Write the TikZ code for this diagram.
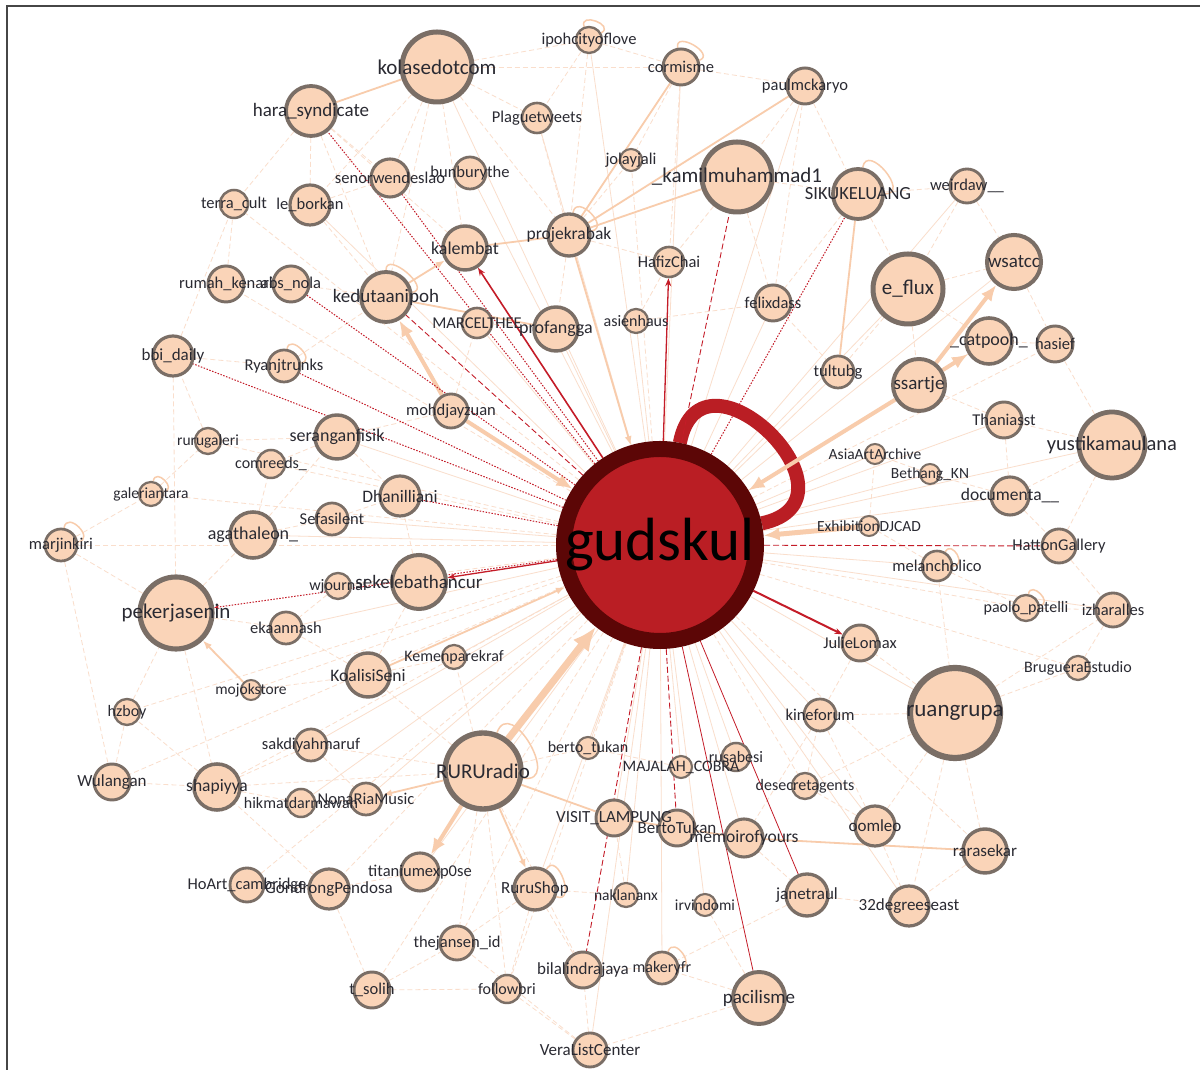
\documentclass[tikz,border=0pt]{standalone}
\usepackage{fontspec}
\setmainfont{Carlito}
\usetikzlibrary{arrows.meta}
\pgfdeclarelayer{edges}
\pgfdeclarelayer{front}
\pgfsetlayers{edges,main,front}
\definecolor{usrfill}{RGB}{250,212,184}
\definecolor{usrline}{RGB}{122,110,102}
\definecolor{lbltxt}{RGB}{42,42,50}
\definecolor{hubfill}{RGB}{186,30,36}
\definecolor{hubline}{RGB}{92,6,6}
\definecolor{peach}{RGB}{248,204,172}
\definecolor{peachlt}{RGB}{250,222,204}
\definecolor{redln}{RGB}{196,28,40}
\definecolor{framecol}{RGB}{70,70,70}
\tikzset{>=stealth,
  usr/.style={circle, draw=usrline, fill=usrfill, inner sep=0pt},
  lbl/.style={text=lbltxt, inner sep=0pt},
  hub/.style={circle, draw=hubline, fill=hubfill, line width=16pt, minimum size=192pt, inner sep=0pt},
  hubloop/.style={draw=hubfill, line width=14pt},
  faint/.style={draw=peachlt, line width=0.8pt},
  fdash/.style={faint, dash pattern=on 5pt off 3pt},
  tie/.style={draw=peach, line width=1.8pt},
  tiearr/.style={tie, -{Latex[length=9pt,width=7pt]}},
  fat/.style={draw=peach, line width=#1, -{Latex[length=16pt,width=13pt]}},
  fat/.default=4pt,
  ploop/.style={draw=peach, line width=1.5pt},
  redarr/.style={draw=redln, line width=1.3pt, -{Stealth[length=8pt,width=6pt]}},
  reddash/.style={draw=redln, line width=0.9pt, dash pattern=on 6pt off 3pt},
  reddot/.style={draw=redln, line width=1pt, dash pattern=on 1.5pt off 1.5pt},
  redthin/.style={draw=redln, line width=0.8pt},
  frame/.style={draw=framecol, line width=1.2pt}
}
\begin{document}
\begin{tikzpicture}[x=1pt,y=1pt]
\useasboundingbox (0,0) rectangle (1200,1070);
\begin{pgfonlayer}{edges}
\fill[white] (0,0) rectangle (1200,1070);
\end{pgfonlayer}
\draw[frame] (7,0) -- (7,1064) -- (1200,1064);

\foreach \nm/\px/\py/\rr/\fs/\lab in {
  kolase/437/67/35/21/kolasedotcom, ipoh/589/40/13/16.5/ipohcityoflove,
  cormis/681/67/18/16.5/cormisme, paul/805/86/18/16.5/paulmckaryo,
  hara/311/111/25/19/hara\_syndicate, plague/537/118/15/16.5/Plaguetweets,
  jolay/631/160/11/16.5/jolayjali, kamil/737/177/35/21/\_kamilmuhammad1,
  siku/858/194/25/18.5/SIKUKELUANG, weird/967/186/17/16.5/weirdaw\_\_,
  senor/390/178/19/16.5/senorwendeslao, bunbury/470/173/16/16.5/bunburythe,
  terra/234/204/14/16.5/terra\_cult, borkan/310/205/20/16.5/le\_borkan,
  kalembat/465/248/22/18/kalembat, projek/569/235/21/17.5/projekrabak,
  hafiz/669/262/15/16.5/HafizChai, wsatcc/1014/262/27/19/wsatcc,
  eflux/908/289/35/21/e\_flux, rumah/226/284/18/16.5/rumah\_kenari,
  nola/291/284/18/16.5/abs\_nola, kedutaan/386/297/25/19/kedutaanipoh,
  marcel/477/323/15/16.5/MARCELTHEE, profangga/556/329/22/18/profangga,
  asien/636/321/12/16/asienhaus, felix/773/303/18/16.5/felixdass,
  bbi/173/356/20/17/bbi\_daily, ryan/284/366/16/16.5/Ryanjtrunks,
  tultub/838/372/16/16.5/tultubg, ssartje/919/385/26/19/ssartje,
  catpooh/989/341/23/18/\_catpooh\_, hasief/1055/344/18/16.5/hasief,
  mohd/451/411/17/16.5/mohdjayzuan, thania/1004/420/18/16.5/Thaniasst,
  yustika/1112/445/33/20.5/yustikamaulana, rurugal/208/441/13/15.5/rurugaleri,
  serangan/337/437/22/18/seranganfisik, comreeds/271/464/14/16/comreeds\_,
  asiaart/875/454/10/15.5/AsiaArtArchive, bethang/930/474/10/15.5/Bethang\_KN,
  documenta/1010/496/19/17.5/documenta\_\_, galeri/151/494/12/15.5/galeriantara,
  dhani/400/496/20/17.5/Dhanilliani, sefa/332/519/16/16.5/Sefasilent,
  agatha/253/535/23/18/agathaleon\_, djcad/869/526/10/15.5/ExhibitionDJCAD,
  marjin/61/545/16/16.5/marjinkiri, hatton/1059/546/17/16.5/HattonGallery,
  melan/937/566/15/16.5/melancholico, wjournal/338/586/13/16/wjournal,
  sekeleba/419/582/27/19/sekelebathancur, pekerja/176/613/36/21/pekerjasenin,
  ekaan/286/628/16/16.5/ekaannash, paolo/1026/608/13/16/paolo\_patelli,
  izhar/1113/610/17/16.5/izharalles, julie/860/643/18/16.5/JulieLomax,
  kemen/454/657/12/16/Kemenparekraf, koalisi/368/675/22/17.5/KoalisiSeni,
  bruguera/1078/668/12/16/BrugueraEstudio, ruang/955/713/45/23/ruangrupa,
  mojok/251/690/10/15.5/mojokstore, hzboy/127/712/13/16/hzboy,
  kine/820/715/16/16.5/kineforum, sakdiyah/311/745/16/16.5/sakdiyahmaruf,
  berto/588/748/11/16/berto\_tukan, rusabesi/736/757/14/16/rusabesi,
  cobra/681/767/11/16/MAJALAH\_COBRA, radio/483/771/38/21/RURUradio,
  wulangan/112/782/18/17/Wulangan, shapiyya/217/787/23/17.5/shapiyya,
  hikmat/301/803/14/16/hikmatdarmawan, nonaria/366/799/16/16.5/NonaRiaMusic,
  desecret/805/786/13/16/desecretagents, lampung/614/818/18/17/VISIT\_LAMPUNG,
  bertotukan/677/828/18/17/BertoTukan, memoir/744/838/19/17.5/memoirofyours,
  oomleo/875/826/20/17/oomleo, rarasekar/985/851/22/17/rarasekar,
  titanium/420/872/19/16.5/titaniumexp0se, hoart/247/885/17/16.5/HoArt\_cambridge,
  gondrong/329/889/20/17/GondrongPendosa, shop/535/889/21/17/RuruShop,
  naklan/626/895/12/15.5/naklananx, irvin/705/905/11/15.5/irvindomi,
  janet/807/895/21/17/janetraul, degrees/909/906/20/17/32degreeseast,
  jansen/457/943/17/16.5/thejansen\_id, bilal/583/970/18/17/bilalindrajaya,
  makery/662/968/16/16/makeryfr, solih/372/990/18/16.5/t\_solih,
  followbri/507/989/14/16/followbri, pacilisme/759/998/26/19/pacilisme,
  vera/590/1050/17/17/VeraListCenter}{
  \pgfmathsetmacro\yy{1070-\py}
  \pgfmathsetmacro\dd{2*\rr}
  \pgfmathsetmacro\ww{0.12*\rr+0.8}
  \node[usr, minimum size=\dd pt, line width=\ww pt] (\nm) at (\px,\yy) {};
  \begin{pgfonlayer}{front}
    \node[lbl, font=\fontsize{\fs}{\fs}\selectfont] at (\nm) {\lab};
  \end{pgfonlayer}
}

\node[hub] (hub) at (660,525) {};
\begin{pgfonlayer}{front}
  \node[inner sep=0pt, font=\fontsize{61}{61}\selectfont] at (hub) {gudskul};
\end{pgfonlayer}

\begin{pgfonlayer}{edges}
\foreach \nm in {kolase, ipoh, cormis, paul, plague, weird, bunbury, borkan, wsatcc, eflux,
  marcel, profangga, asien, felix, tultub, catpooh, thania, yustika, serangan, asiaart,
  bethang, documenta, sefa, agatha, melan, ekaan, izhar, kemen, ruang, kine, berto,
  rusabesi, cobra, nonaria, lampung, memoir, oomleo, titanium, shop, naklan, irvin,
  degrees, makery, vera, hikmat, sakdiyah}
  \draw[faint] (hub) -- (\nm);
\foreach \nm in {jolay, terra, rumah, hasief, rurugal, comreeds, galeri, marjin, wjournal,
  paolo, bruguera, mojok, hzboy, wulangan, shapiyya, desecret, rarasekar, hoart, gondrong,
  jansen, solih, followbri}
  \draw[fdash] (hub) -- (\nm);
\foreach \ea/\eb in {kolase/ipoh, kolase/cormis, kolase/kedutaan, kolase/projek,
  kolase/plague, kolase/senor, kolase/kalembat, kolase/borkan, hara/borkan, hara/senor,
  hara/terra, hara/kedutaan, hara/kalembat, ipoh/cormis, ipoh/projek, ipoh/plague,
  cormis/paul, cormis/jolay, cormis/hafiz, paul/kamil, paul/siku, paul/felix, kamil/siku,
  kamil/felix, kamil/hafiz, siku/weird, siku/eflux, siku/felix, weird/wsatcc, weird/eflux,
  eflux/wsatcc, eflux/catpooh, eflux/ssartje, eflux/tultub, wsatcc/hasief, catpooh/hasief,
  ssartje/thania, thania/yustika, thania/documenta, yustika/documenta, yustika/hatton,
  yustika/hasief, documenta/hatton, documenta/bethang, hatton/izhar, izhar/paolo,
  izhar/bruguera, paolo/melan, melan/ruang, melan/djcad, ruang/julie, ruang/kine,
  ruang/oomleo, ruang/rarasekar, ruang/degrees, ruang/bruguera, ruang/izhar, ruang/desecret,
  oomleo/degrees, oomleo/desecret, rarasekar/degrees, memoir/janet, memoir/bertotukan,
  janet/degrees, janet/makery, pacilisme/vera, pacilisme/makery, pacilisme/irvin, vera/bilal,
  vera/followbri, vera/jansen, bilal/makery, bilal/shop, shop/jansen, shop/followbri,
  shop/naklan, radio/berto, radio/jansen, radio/kemen, radio/sakdiyah, radio/shapiyya,
  radio/koalisi, radio/followbri, radio/bilal, titanium/gondrong, gondrong/hoart,
  gondrong/solih, gondrong/shapiyya, solih/jansen, solih/followbri, shapiyya/wulangan,
  shapiyya/hikmat, shapiyya/sakdiyah, shapiyya/hzboy, hzboy/pekerja, hzboy/wulangan,
  pekerja/marjin, pekerja/agatha, pekerja/ekaan, pekerja/bbi, pekerja/shapiyya,
  marjin/galeri, marjin/wulangan, galeri/rurugal, rurugal/bbi, rurugal/serangan, bbi/ryan,
  bbi/terra, ryan/kedutaan, rumah/terra, rumah/nola, nola/kedutaan, borkan/kedutaan,
  borkan/senor, projek/hafiz, projek/jolay, projek/plague, projek/profangga, agatha/serangan,
  agatha/comreeds, serangan/comreeds, serangan/dhani, serangan/mohd, sefa/dhani, agatha/sefa,
  koalisi/kemen, koalisi/sekeleba, koalisi/ekaan, sekeleba/wjournal, sekeleba/dhani,
  mohd/marcel, lampung/naklan, cobra/rusabesi, cobra/berto, desecret/kine, julie/kine,
  felix/tultub, asiaart/bethang, djcad/asiaart, marcel/profangga, asien/hafiz, asien/felix,
  kine/oomleo, kine/memoir, mojok/koalisi, hikmat/nonaria, sakdiyah/nonaria, wjournal/ekaan}
  \draw[fdash] (\ea) -- (\eb);
\foreach \ea/\eb in {kamil/projek, cormis/projek, paul/projek, kolase/hara, kalembat/projek,
  kedutaan/profangga, radio/lampung, siku/tultub, rarasekar/memoir, lampung/bertotukan,
  bertotukan/memoir}
  \draw[tie] (\ea) -- (\eb);

\foreach \nm/\o/\i/\d in {ipoh/110/30/16, cormis/100/20/18, siku/80/0/26, kedutaan/90/10/20,
  ryan/80/10/16, galeri/80/10/14, marjin/80/10/18, projek/80/10/20, radio/70/-10/40,
  shop/60/-20/22, makery/70/0/18, paolo/80/10/14, melan/60/0/14}
  \draw[ploop] (\nm.\o) to[out=\o,in=\i,distance=\d pt] (\nm.\i);

\draw[hubloop] (hub.79) to[out=79,in=12,distance=112pt] (hub.12);

\draw[fat=7pt, -{Latex[length=24pt,width=20pt]}] (radio) -- (hub);
\draw[fat] (mohd) -- (kedutaan);
\draw[fat] (mohd) -- (hub);
\draw[fat=4pt] (ssartje) -- (hub);
\draw[fat] (ssartje) -- (catpooh);
\draw[fat] (ssartje) -- (wsatcc);
\draw[fat=5pt] (djcad) -- (hub);
\draw[fat] (radio) -- (titanium);
\draw[tiearr] (projek) -- (hub);
\draw[tiearr] (koalisi) -- (hub);
\draw[tiearr] (mojok) -- (pekerja);
\draw[tiearr] (kedutaan) -- (kalembat);
\draw[tiearr] (radio) -- (shop);
\draw[tiearr] (radio) -- (nonaria);

\draw[redarr, line width=1.6pt] (hub) -- (kalembat);
\draw[redarr] (hub) -- (hafiz);
\draw[redarr] (hub) -- (sekeleba);
\draw[redarr, line width=2pt] (hub) -- (julie);
\foreach \nm in {kamil, kedutaan, hatton, bilal, bertotukan}
  \draw[reddash] (hub) -- (\nm);
\foreach \nm in {siku, hara, senor, nola, bbi, ryan, dhani}
  \draw[reddot] (hub) -- (\nm);
\draw[reddot, -{Stealth[length=5pt,width=4pt]}] (hub) -- (pekerja);
\foreach \nm in {pacilisme, janet}
  \draw[redthin] (hub) -- (\nm);
\end{pgfonlayer}
\end{tikzpicture}
\end{document}
